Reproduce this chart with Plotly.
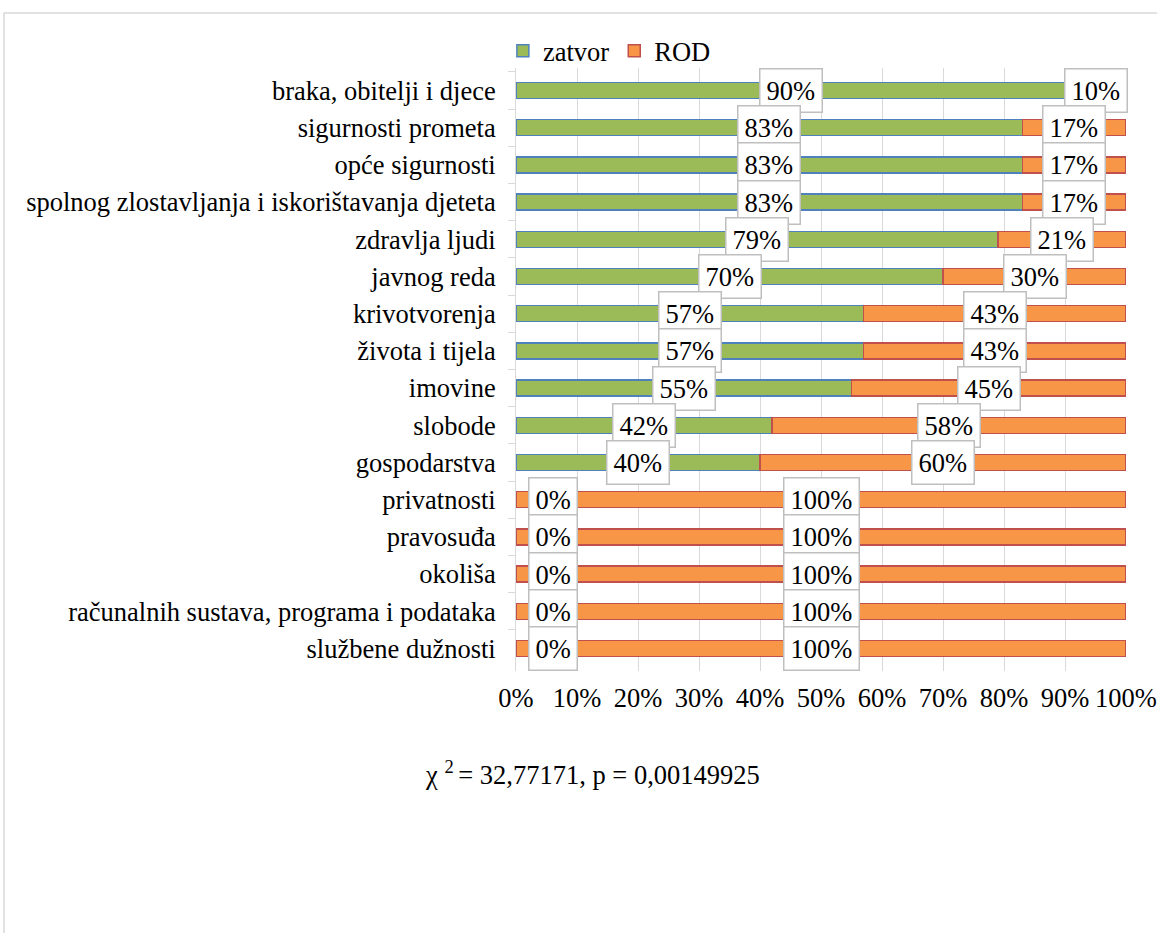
import plotly.graph_objects as go

categories = [
    "braka, obitelji i djece",
    "sigurnosti prometa",
    "opće sigurnosti",
    "spolnog zlostavljanja i iskorištavanja djeteta",
    "zdravlja ljudi",
    "javnog reda",
    "krivotvorenja",
    "života i tijela",
    "imovine",
    "slobode",
    "gospodarstva",
    "privatnosti",
    "pravosuđa",
    "okoliša",
    "računalnih sustava, programa i podataka",
    "službene dužnosti",
]
zatvor = [90, 83, 83, 83, 79, 70, 57, 57, 55, 42, 40, 0, 0, 0, 0, 0]
rod = [10, 17, 17, 17, 21, 30, 43, 43, 45, 58, 60, 100, 100, 100, 100, 100]
x_ticks = [0, 10, 20, 30, 40, 50, 60, 70, 80, 90, 100]
x_tick_labels = [f"{v}%" for v in x_ticks]
note = "χ <sup>2 </sup>= 32,77171, p = 0,00149925"

FONT = "Liberation Serif"
FS = 26.5

fig = go.Figure()
fig.add_trace(go.Bar(
    y=categories, x=zatvor, orientation="h", name="zatvor",
    marker=dict(color="#9BBB59", line=dict(color="#4F81BD", width=1.5)),
    hoverinfo="x+y",
))
fig.add_trace(go.Bar(
    y=categories, x=rod, orientation="h", name="ROD",
    marker=dict(color="#F79646", line=dict(color="#C0504D", width=1.5)),
    hoverinfo="x+y",
))

annotations = []
box = dict(bgcolor="white", bordercolor="#BFBFBF", borderwidth=1.5, borderpad=6,
           font=dict(family=FONT, size=FS, color="black"), showarrow=False,
           xref="x", yref="y")
for cat, z, r in zip(categories, zatvor, rod):
    if z == 0:
        annotations.append(dict(x=0, y=cat, text=f"{z}%", xanchor="left", xshift=12, **box))
    else:
        annotations.append(dict(x=z / 2, y=cat, text=f"{z}%", **box))
    annotations.append(dict(x=z + r / 2, y=cat, text=f"{r}%", **box))

annotations.append(dict(
    x=(592 - 516) / 610, y=(671 - 773) / 603, xref="paper", yref="paper",
    text=note, showarrow=False, font=dict(family=FONT, size=FS, color="black"),
    xanchor="center", yanchor="middle",
))

fig.update_layout(
    width=1157, height=933,
    barmode="stack", bargap=0.57,
    paper_bgcolor="white", plot_bgcolor="white",
    margin=dict(l=516, r=31, t=68, b=262, autoexpand=False),
    font=dict(family=FONT, size=FS, color="black"),
    showlegend=True,
    legend=dict(orientation="h", x=-0.0215, y=(671 - 27) / 603, xanchor="left", yanchor="top",
                font=dict(family=FONT, size=FS, color="black"), traceorder="normal",
                bgcolor="rgba(0,0,0,0)", itemwidth=30, tracegroupgap=0),
    annotations=annotations,
    shapes=[dict(type="rect", xref="paper", yref="paper",
                 x0=(4 - 516) / 610, x1=1.2, y0=-0.6, y1=(671 - 13) / 603,
                 line=dict(color="#D9D9D9", width=1.5), fillcolor="rgba(0,0,0,0)",
                 layer="below")],
)
fig.update_xaxes(range=[0, 100], tickvals=x_ticks, ticktext=x_tick_labels,
                 showgrid=True, gridcolor="#D9D9D9", gridwidth=1,
                 zeroline=False, showline=False, ticks="", ticklabelstandoff=8,
                 tickfont=dict(family=FONT, size=FS, color="black"), fixedrange=True)
fig.update_yaxes(autorange="reversed", showline=True, linecolor="#D9D9D9", linewidth=1,
                 ticks="outside", ticklen=7, tickcolor="#D9D9D9", tickson="boundaries",
                 showgrid=False, ticklabelstandoff=14,
                 tickfont=dict(family=FONT, size=FS, color="black"))

fig.write_html("out.html", config={"displayModeBar": False},
               post_script="document.body.style.margin='0';")
